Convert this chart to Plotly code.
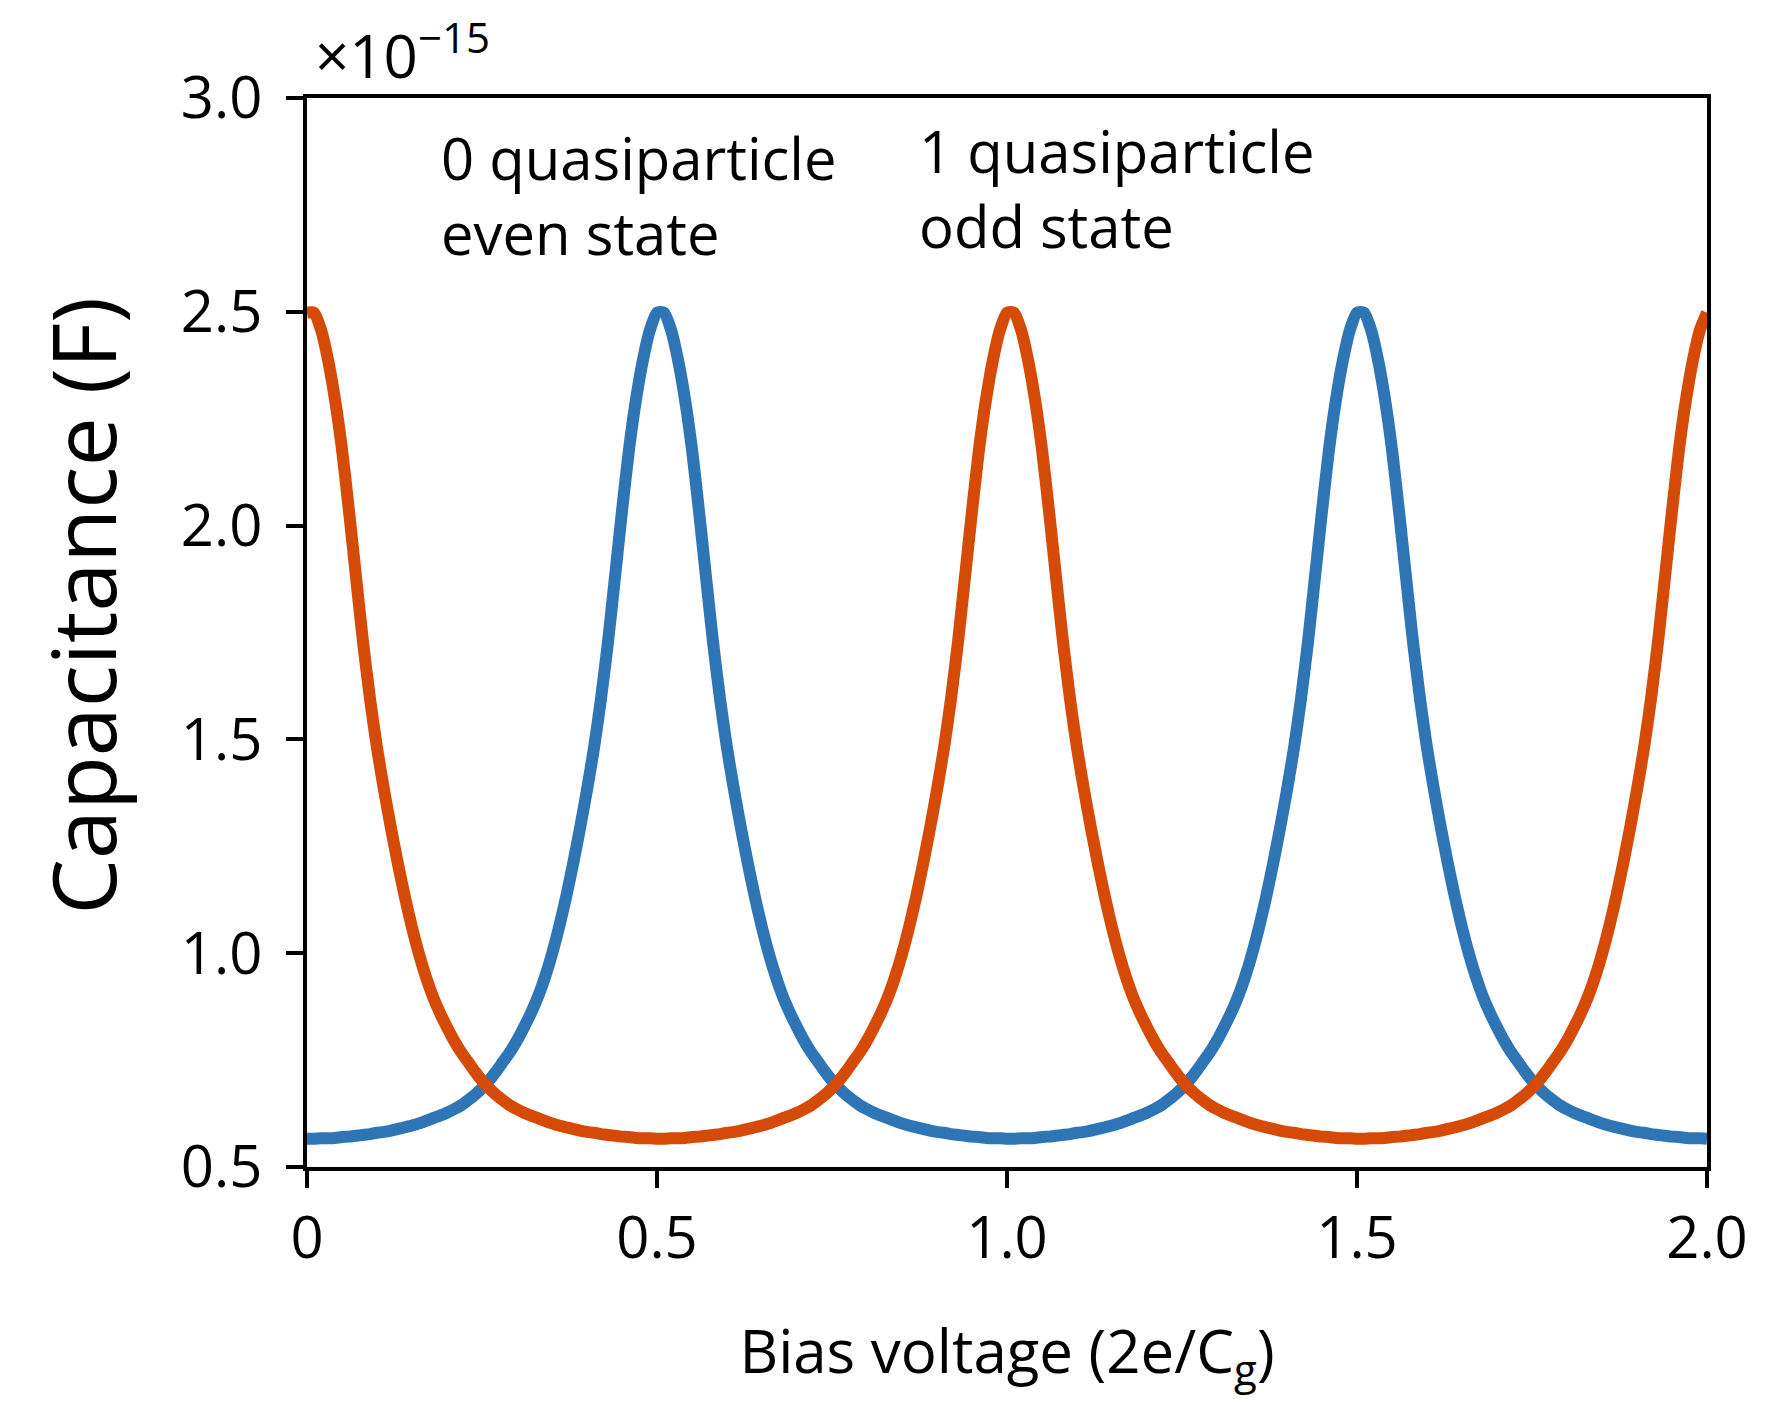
import plotly.graph_objects as go

# Bias voltage samples (2e/Cg), step 0.01
bias_voltage = [round(0.01 * i, 2) for i in range(201)]

# Capacitance (x1e-15 F) at each sample
even_state = [
    0.566,
    # 0.01 .. 0.50
    0.566, 0.567, 0.567, 0.568, 0.570, 0.571, 0.573, 0.575, 0.577, 0.580,
    0.582, 0.585, 0.589, 0.593, 0.597, 0.602, 0.608, 0.614, 0.620, 0.627,
    0.635, 0.644, 0.656, 0.669, 0.684, 0.702, 0.723, 0.746, 0.769, 0.796,
    0.827, 0.860, 0.898, 0.944, 0.998, 1.060, 1.130, 1.208, 1.292, 1.382,
    1.480, 1.595, 1.728, 1.880, 2.034, 2.178, 2.295, 2.388, 2.458, 2.498,
    # 0.51 .. 1.00
    2.498, 2.458, 2.388, 2.295, 2.178, 2.034, 1.880, 1.728, 1.595, 1.480,
    1.382, 1.292, 1.208, 1.130, 1.060, 0.998, 0.944, 0.898, 0.860, 0.827,
    0.796, 0.769, 0.746, 0.723, 0.702, 0.684, 0.669, 0.656, 0.644, 0.635,
    0.627, 0.620, 0.614, 0.608, 0.602, 0.597, 0.593, 0.589, 0.585, 0.582,
    0.580, 0.577, 0.575, 0.573, 0.571, 0.570, 0.568, 0.567, 0.567, 0.566,
    # 1.01 .. 1.50
    0.566, 0.567, 0.567, 0.568, 0.570, 0.571, 0.573, 0.575, 0.577, 0.580,
    0.582, 0.585, 0.589, 0.593, 0.597, 0.602, 0.608, 0.614, 0.620, 0.627,
    0.635, 0.644, 0.656, 0.669, 0.684, 0.702, 0.723, 0.746, 0.769, 0.796,
    0.827, 0.860, 0.898, 0.944, 0.998, 1.060, 1.130, 1.208, 1.292, 1.382,
    1.480, 1.595, 1.728, 1.880, 2.034, 2.178, 2.295, 2.388, 2.458, 2.498,
    # 1.51 .. 2.00
    2.498, 2.458, 2.388, 2.295, 2.178, 2.034, 1.880, 1.728, 1.595, 1.480,
    1.382, 1.292, 1.208, 1.130, 1.060, 0.998, 0.944, 0.898, 0.860, 0.827,
    0.796, 0.769, 0.746, 0.723, 0.702, 0.684, 0.669, 0.656, 0.644, 0.635,
    0.627, 0.620, 0.614, 0.608, 0.602, 0.597, 0.593, 0.589, 0.585, 0.582,
    0.580, 0.577, 0.575, 0.573, 0.571, 0.570, 0.568, 0.567, 0.567, 0.566,
]

odd_state = [
    2.498,
    # 0.01 .. 0.50
    2.498, 2.458, 2.388, 2.295, 2.178, 2.034, 1.880, 1.728, 1.595, 1.480,
    1.382, 1.292, 1.208, 1.130, 1.060, 0.998, 0.944, 0.898, 0.860, 0.827,
    0.796, 0.769, 0.746, 0.723, 0.702, 0.684, 0.669, 0.656, 0.644, 0.635,
    0.627, 0.620, 0.614, 0.608, 0.602, 0.597, 0.593, 0.589, 0.585, 0.582,
    0.580, 0.577, 0.575, 0.573, 0.571, 0.570, 0.568, 0.567, 0.567, 0.566,
    # 0.51 .. 1.00
    0.566, 0.567, 0.567, 0.568, 0.570, 0.571, 0.573, 0.575, 0.577, 0.580,
    0.582, 0.585, 0.589, 0.593, 0.597, 0.602, 0.608, 0.614, 0.620, 0.627,
    0.635, 0.644, 0.656, 0.669, 0.684, 0.702, 0.723, 0.746, 0.769, 0.796,
    0.827, 0.860, 0.898, 0.944, 0.998, 1.060, 1.130, 1.208, 1.292, 1.382,
    1.480, 1.595, 1.728, 1.880, 2.034, 2.178, 2.295, 2.388, 2.458, 2.498,
    # 1.01 .. 1.50
    2.498, 2.458, 2.388, 2.295, 2.178, 2.034, 1.880, 1.728, 1.595, 1.480,
    1.382, 1.292, 1.208, 1.130, 1.060, 0.998, 0.944, 0.898, 0.860, 0.827,
    0.796, 0.769, 0.746, 0.723, 0.702, 0.684, 0.669, 0.656, 0.644, 0.635,
    0.627, 0.620, 0.614, 0.608, 0.602, 0.597, 0.593, 0.589, 0.585, 0.582,
    0.580, 0.577, 0.575, 0.573, 0.571, 0.570, 0.568, 0.567, 0.567, 0.566,
    # 1.51 .. 2.00
    0.566, 0.567, 0.567, 0.568, 0.570, 0.571, 0.573, 0.575, 0.577, 0.580,
    0.582, 0.585, 0.589, 0.593, 0.597, 0.602, 0.608, 0.614, 0.620, 0.627,
    0.635, 0.644, 0.656, 0.669, 0.684, 0.702, 0.723, 0.746, 0.769, 0.796,
    0.827, 0.860, 0.898, 0.944, 0.998, 1.060, 1.130, 1.208, 1.292, 1.382,
    1.480, 1.595, 1.728, 1.880, 2.034, 2.178, 2.295, 2.388, 2.458, 2.498,
]

x_tickvals = [0, 0.5, 1.0, 1.5, 2.0]
x_ticktext = ["0", "0.5", "1.0", "1.5", "2.0"]
y_tickvals = [0.5, 1.0, 1.5, 2.0, 2.5, 3.0]
y_ticktext = ["0.5", "1.0", "1.5", "2.0", "2.5", "3.0"]

BLUE = "#2E75B6"
ORANGE = "#D44A06"
FONT = "Open Sans"

fig = go.Figure()
fig.add_trace(go.Scatter(x=bias_voltage, y=even_state, mode="lines",
                         line=dict(color=BLUE, width=12, shape="spline", smoothing=0.6),
                         name="0 quasiparticle even state", showlegend=False))
fig.add_trace(go.Scatter(x=bias_voltage, y=odd_state, mode="lines",
                         line=dict(color=ORANGE, width=12, shape="spline", smoothing=0.6),
                         name="1 quasiparticle odd state", showlegend=False))

axis_common = dict(showgrid=False, zeroline=False, showline=True, linecolor="black",
                   linewidth=4, mirror=True, ticks="outside", ticklen=17, tickwidth=4,
                   tickcolor="black", tickfont=dict(family=FONT, size=58, color="black"))

fig.update_xaxes(range=[0, 2.0], tickvals=x_tickvals, ticktext=x_ticktext,
                 title=dict(text="Bias voltage (2e/C<sub>g</sub>)",
                            font=dict(family=FONT, size=60, color="black"), standoff=58),
                 **axis_common)
fig.update_yaxes(range=[0.5, 3.0], tickvals=y_tickvals, ticktext=y_ticktext,
                 ticklabelstandoff=12, **axis_common)

annotations = [
    dict(text="0 quasiparticle<br>even state", x=0.094, y=0.909, xanchor="left", yanchor="middle", align="left"),
    dict(text="1 quasiparticle<br>odd state", x=0.436, y=0.916, xanchor="left", yanchor="middle", align="left"),
    dict(text="×10<sup>−15</sup>", x=0.004, y=1.0, xanchor="left", yanchor="bottom", align="left",
         font=dict(family=FONT, size=60, color="black")),
    dict(text="Capacitance (F)", x=-0.161, y=0.525, xanchor="center", yanchor="middle", textangle=-90,
         font=dict(family=FONT, size=88, color="black")),
]
for a in annotations:
    a.setdefault("font", dict(family=FONT, size=58, color="black"))
    fig.add_annotation(xref="paper", yref="paper", showarrow=False, **a)

fig.update_layout(width=1773, height=1405,
                  margin=dict(l=307, r=66, t=98, b=238),
                  paper_bgcolor="white", plot_bgcolor="white",
                  font=dict(family=FONT, color="black"))

fig.write_html("out.html")
